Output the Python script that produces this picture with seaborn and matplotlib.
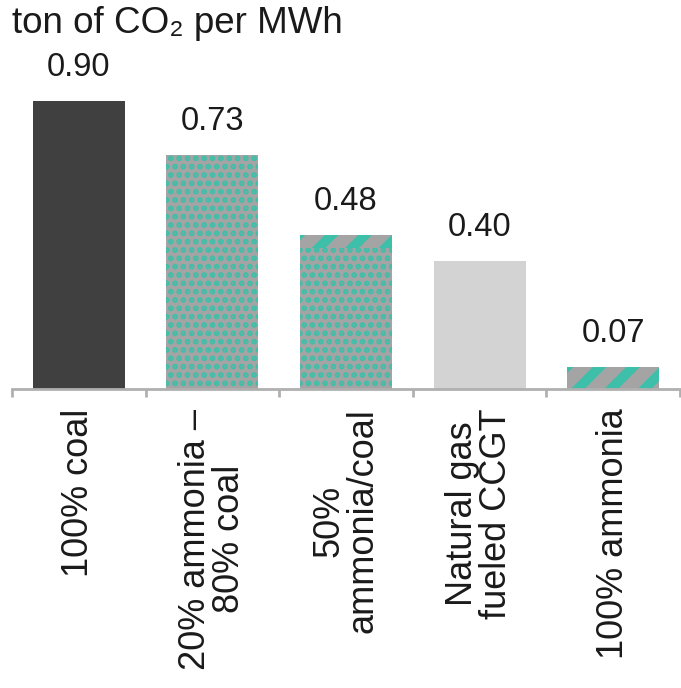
import matplotlib
matplotlib.use("Agg")
import matplotlib.pyplot as plt
import seaborn as sns
import pandas as pd
from matplotlib.ticker import FixedLocator

categories = ["100% coal", "20% ammonia –\n80% coal", "50%\nammonia/coal",
              "Natural gas\nfueled CCGT", "100% ammonia"]
values = [0.90, 0.73, 0.48, 0.40, 0.07]
value_labels = ["0.90", "0.73", "0.48", "0.40", "0.07"]
unit_label = "ton of CO\u2082 per MWh"

sns.set_theme(style="white")
plt.rcParams["font.family"] = ["Liberation Sans", "DejaVu Sans"]

DARK = "#404040"
LIGHT = "#d3d3d3"
GREY = "#a4a4a4"
TEAL = "#3dbfa9"
TEXT = "#1a1a1a"

DOT_LW = 2.8
STRIPE_LW = 7.0


def set_hatch_lw(patch, lw):
    if hasattr(patch, "set_hatch_linewidth"):
        patch.set_hatch_linewidth(lw)
    else:
        plt.rcParams["hatch.linewidth"] = lw


fig = plt.figure(figsize=(6.81, 6.88), dpi=100)
ax = fig.add_axes([12 / 681, (688 - 389) / 688, 668 / 681, 330 / 688])

df = pd.DataFrame({"cat": categories, "val": values})
sns.barplot(data=df, x="cat", y="val", color=GREY, width=0.69,
            saturation=1, ax=ax)

# fills: solid coal and gas, dotted blends, striped pure ammonia
fills = [DARK, GREY, GREY, LIGHT, GREY]
styles = [None, "..", "..", None, "/"]
for patch, fc, h in zip(ax.patches, fills, styles):
    patch.set_facecolor(fc)
    patch.set_linewidth(0)
    if h:
        patch.set_hatch(h)
        patch.set_edgecolor(TEAL)
        set_hatch_lw(patch, STRIPE_LW if h == "/" else DOT_LW)
    else:
        patch.set_edgecolor(fc)

bars = ax.containers[0]
ax.bar_label(bars, labels=value_labels, padding=13, fontsize=23.5, color=TEXT)

# striped cap on the 50% blend bar
cap = 0.04
cap_bar = ax.bar(2, cap, bottom=values[2] - cap, width=0.69, color=GREY,
                 hatch="/", edgecolor=TEAL, linewidth=0)
for p in cap_bar:
    set_hatch_lw(p, STRIPE_LW)

ax.set_xlim(-0.5, 4.5)
ax.set_ylim(0, 1.03)
ax.set_xlabel("")
ax.set_ylabel("")
ax.set_yticks([])
for s in ["top", "right", "left"]:
    ax.spines[s].set_visible(False)
ax.spines["bottom"].set_color("#b0b0b0")
ax.spines["bottom"].set_linewidth(2)

ax.set_xticks(range(len(categories)))
ax.set_xticklabels(categories, rotation=90, ha="center", va="top",
                   fontsize=26, color=TEXT, linespacing=0.95)
ax.xaxis.set_minor_locator(FixedLocator([-0.5, 0.5, 1.5, 2.5, 3.5, 4.5]))
ax.tick_params(axis="x", which="major", length=0, pad=14)
ax.tick_params(axis="x", which="minor", length=6, width=2, color="#b0b0b0",
               bottom=True)

fig.text(12 / 681, 1 - 6 / 688, unit_label, ha="left", va="top",
         fontsize=26.5, color=TEXT)

fig.savefig("out.png", dpi=100)
